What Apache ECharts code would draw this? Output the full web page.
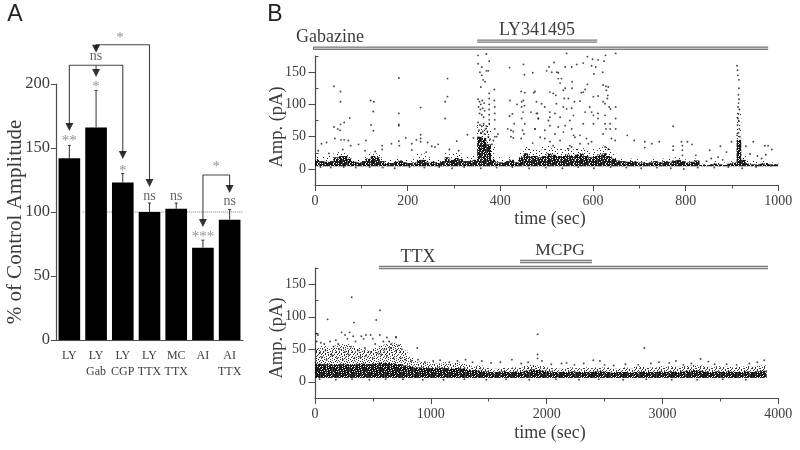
<!DOCTYPE html>
<html><head><meta charset="utf-8">
<script src="https://cdn.jsdelivr.net/npm/echarts@6/dist/echarts.min.js"></script>
<style>html,body{margin:0;background:#fff}#c{width:800px;height:450px}</style></head>
<body><div id="c"></div>
<script>
// Panel A
const barLabels = ['LY\n ','LY\nGab','LY\nCGP','LY\nTTX','MC\nTTX','AI\n ','AI\nTTX'];
const barValues = [142,166,123,100,102.5,72,94];
const barErrTop = [152,195,130,107,107,78,102];
const bracketRuns = [
  [[1.5,228],[1.5,230.7],[3.5,230.7],[3.5,125]],
  [[0.5,168],[0.5,214.6],[2.5,214.6],[2.5,146]],
  [[1.5,214.6],[1.5,211]],
  [[5.5,93.7],[5.5,128.9],[6.5,128.9],[6.5,120]]
];
const arrowHeads = [[1.5,227.5],[3.5,122.7],[0.5,166.4],[2.5,144.5],[1.5,208.6],[5.5,91.4],[6.5,118]];
const sigStars = [[0.5,156,'**'],[1.5,198,'*'],[2.5,133,'*'],[5.5,81,'***'],[2.4,237,'*'],[6,136,'*']];
const sigNs = [[1.5,221.5,'ns'],[3.5,112.5,'ns'],[4.5,112.5,'ns'],[6.5,108.5,'ns']];
// Panel B, upper trace: band per 10 s bin (amplitude pA)
const topBinSec = 10, topFloor = 4;
const topCore = [14,12,11,12,18,20,20,16,11,10, 12,16,20,18,12,9,9,11,13,10, 9,10,14,14,10,11,9,12,18,14,
 17,15,12,12,14,50,48,38,14,10, 10,12,14,10,18,24,20,20,18,20, 24,22,20,20,22,20,22,24,20,18,
 20,22,24,20,16,13,12,11,12,11, 10,9,10,12,10,12,11,13,14,12, 10,11,13,6,6,7,8,7,6,8, 10,45,14,8,7,7,8,9,7,7];
const topHaze = [22,20,18,20,28,28,26,22,16,15, 18,24,26,24,18,14,15,16,20,15, 15,15,24,24,18,16,15,18,26,24,
 26,24,20,18,20,70,68,70,35,18, 14,18,20,16,28,34,32,30,30,34, 36,34,32,32,34,30,32,34,32,28,
 32,34,36,32,26,18,16,15,16,15, 14,13,14,16,15,16,16,18,20,16, 14,15,16,8,8,10,12,10,10,12, 14,95,22,14,12,11,12,14,10,10];
const topEvents = [[41,128],[55,120],[55,104],[75,79],[63,72],[55,69],[54,60],[41,65],[49,62],[43,47],[56,45],[63,45],[72,44],[77,36],[94,38],[110,44],[120,106],[127,104],[126,89],[121,68],[126,59],[181,141],[181,86],[181,69],[181,67],[228,95],[286,140],[286,112],[281,104],[281,78],[196,48],[181,43],[182,36],[145,36],[145,30],[165,39],[209,39],[219,45],[228,53],[228,47],[228,42],[243,41],[259,34],[266,38],[252,35],[306,43],[329,53],[342,48],[14,39],[25,41],[7,28],[108,28],[209,29],[30,24],[60,30],[130,27],[240,26],[290,30],[310,28],
[352,176],[370,178],[376,167],[352,163],[360,158],[370,152],[374,152],[356,150],[360,145],[363,138],[367,135],[358,127],[387,123],[376,117],[376,109],[387,106],[352,108],[355,104],[358,100],[361,106],[365,102],[353,96],[357,92],[362,94],[366,90],[355,86],[360,84],[364,80],[376,100],[376,92],[376,84],[376,76],[376,70],[388,96],[388,86],[388,76],[388,62],[388,50],[392,50],[395,54],[385,44],[382,38],[352,72],[356,68],[360,66],[364,70],[368,62],[354,60],[358,56],[362,58],[366,54],[370,66],[372,58],[374,50],[378,46],
[420,157],[421,106],[426,85],[420,82],[430,70],[423,60],[428,58],[423,50],[428,48],[416,62],[436,100],[446,96],[450,162],[452,146],[445,120],[453,118],[450,106],[446,104],[452,98],[449,88],[446,78],[453,70],[448,60],[451,54],[445,47],[470,149],[475,120],[472,118],[478,104],[480,86],[475,62],[482,78],
[543,179],[649,179],[627,176],[588,174],[599,170],[611,169],[624,167],[516,165],[565,162],[579,164],[505,158],[554,158],[540,158],[597,160],[606,158],[500,152],[511,150],[522,150],[525,149],[621,150],[602,147],[532,140],[525,140],[529,133],[555,135],[540,125],[555,125],[536,122],[588,131],[583,123],[622,130],[628,128],[633,127],[629,122],[632,114],[631,109],[507,119],[514,117],[520,114],[538,109],[547,109],[560,104],[572,105],[575,118],[579,119],[601,112],[611,113],[622,104],[626,101],[635,96],[649,96],[638,93],[489,101],[496,96],[507,88],[518,86],[521,101],[536,96],[543,93],[554,94],[558,83],[507,80],[478,86],[504,75],[482,78],[529,80],[540,67],[550,75],[554,62],[579,70],[583,88],[593,96],[597,88],[601,83],[611,86],[611,78],[601,70],[626,70],[637,70],[628,62],[637,62],[649,78],[649,62],[626,83],[622,54],[640,47],[648,44],[586,47],[597,42],[590,39],[558,52],[561,49],[536,57],[525,65],[518,54],[507,67],[496,60],[486,49],[475,62],[496,47],[507,42],[514,36],[529,44],[547,31],[550,36],[554,34],[572,39],[572,52],[626,34],[633,31],[470,40],[466,88],
[674,52],[689,44],[712,42],[727,39],[743,42],[712,33],[773,66],[773,35],[773,29],[791,42],[793,36],[793,29],[793,21],[804,42],[814,38],[822,21],[852,29],[875,35],[888,26],[899,42],[870,18],[845,12],[855,16],[840,6],[880,14],
[911,160],[912,153],[913,145],[915,138],[915,125],[914,115],[914,102],[916,92],[914,85],[913,78],[915,74],[912,68],[916,62],[914,56],[911,52],[917,50],[913,96],[915,108],
[930,35],[946,42],[939,23],[971,36],[978,36],[986,30],[973,22],[955,20],[964,16],
[12,3],[34,2],[62,3],[88,2],[118,3],[146,2],[172,1],[204,3],[236,2],[268,3],[296,1],[322,3],[358,1],[392,2],[426,3],[462,1],[498,2],[534,1],[568,3],[602,1],[638,3],[672,2],[704,1],[738,2],[768,1],[796,0],[826,2],[862,2],[892,3],[922,1],[952,3],[984,5]];
// Panel B, lower trace: band per 50 s bin
const lowBinSec = 50, lowFloor = 6;
const lowCore = [28,27,27,26,27,27,26,27,28,27, 28,29,29,28,27,25,24,22,22,21, 21,22,21,20,21,20,18,18,17,16,
 15,15,16,15,16,15,17,19,18,17, 16,15,15,15,16,15,15,15,16,16, 15,14,15,15,14,15,16,15,15,16,
 15,16,15,16,17,18,17,16,15,16, 15,16,15,15,16,15,16,17];
const lowHaze = [52,55,52,56,58,58,55,52,50,48, 52,56,58,60,58,48,38,32,31,30, 30,28,30,28,30,28,26,24,25,22,
 20,20,22,21,22,22,24,26,25,24, 22,21,20,21,22,21,22,21,22,22, 22,20,20,22,20,23,24,22,22,24,
 23,24,23,24,25,26,25,24,23,24, 23,23,22,23,24,23,24,25];
const lowEvents = [[317,130],[109,96],[337,91],[561,110],[529,95],[883,52],[699,69],[1922,73],[2843,52],[1922,42],[1922,36],[2403,33],[2460,32],[2172,29],[2129,28],[3329,35],[3396,31],[3879,33],[3116,32],[3059,29],[3554,27],
[10,74],[25,72],[15,62],[50,60],[80,58],[130,62],[180,64],[230,76],[260,72],[300,76],[330,70],[400,70],[440,72],[480,72],[500,66],[560,72],[620,68],[640,62],[700,68],[200,58],[160,54],[280,66],[350,62],[420,66],[520,58],[590,62],[660,58],[720,56],[750,50],[40,44],[90,48],[140,42],[210,50],[260,46],[310,54],[370,48],[430,52],[480,46],[540,44],[600,50],[650,52],[700,48],
[60,38],[100,34],[150,40],[190,36],[240,34],[290,42],[340,36],[390,38],[440,40],[500,36],[570,42],[620,40],[680,36],[740,36],[780,34],[830,32],[890,34],[950,30],[1020,32],[1080,33],[1160,30],[1230,32],[1300,34],[1360,30],[1440,32],[1520,29],[1600,30],[1700,34],[1780,28],[1840,30],[1960,32],[2040,27],[2240,26],[2320,28],[2500,26],[2580,25],[2680,27],[2790,26],[2900,28],[2970,30],[3180,26],[3250,28],[3450,27],[3640,26],[3750,28],[3820,30],
[40,4],[180,3],[320,4],[470,3],[610,4],[760,4],[930,3],[1110,3],[1290,4],[1480,3],[1650,4],[1850,3],[2080,4],[2280,3],[2450,4],[2660,3],[2860,4],[3080,3],[3300,3],[3520,4],[3720,3]];
// Application bars
const gabSpan = [-58,978], lySpan = [350,609], ttxSpan = [552,3911], mcpgSpan = [1770,2391];
const gabLevel = 187, lyLevel = 198, ttxLevel = 175.7, mcpgLevel = 185;
const ampTicks = [0,50,100,150], ampMinor = [-25,25,75,125,175];
// Stipple textures for the overlapping event clouds
const tileDense = ["##.###.#####.##.","#.#######.#.####","####.##.######.#",".#.#######.##.##","#####.#.#####.##","##.#######.###.#","#.###.##.###.###","####.######.##.#",".##.####.#.#####","#####.#.#####.##","#.#.#######.####","###.##.#.#####.#","##.######.###.##","#####.##.####.##",".#.###.####.#.##","###.####.######."];
const tileMedium = ["#..#...##...#..#","..#..#.....#....",".#...#..#.#...#.","...#....#....#..","#.....#...#.#...","..#.#....#.....#",".#....#.#...#...","....#.....#...#.","#.#...#.....#...","...#....#.#....#",".#...#.....#.#..","....#..#.#......","#.#....#...#..#.","..#..#...#...#..",".....#.#....#..#","#..#......#.#..."];
const tileSparse = ["......#.........",".#.........#....","....#...........","..........#...#.",".......#........","##...........#..",".....#..#.......","...........#....","..#.............","........#....#..",".#...#..........","...........#....",".........#......","...#.........#..",".......#........",".............#.."];

const SERIF = '"Liberation Serif","Times New Roman",serif', SANS = '"Liberation Sans",Arial,sans-serif';
const TXT = '#3c3c3c', AX = '#4a4a4a';
const chart = echarts.init(document.getElementById('c'));

function stipple(rows, ink){
  const cv = document.createElement('canvas'); cv.width = rows[0].length; cv.height = rows.length;
  const g = cv.getContext('2d'); g.fillStyle = ink;
  rows.forEach((r,y)=>[...r].forEach((ch,x)=>{ if(ch==='#') g.fillRect(x,y,1,1); }));
  return {image:cv, repeat:'repeat'};
}
const fillDense = stipple(tileDense,'rgba(0,0,0,0.9)'), fillMedium = stipple(tileMedium,'rgba(0,0,0,0.8)'), fillSparse = stipple(tileSparse,'rgba(0,0,0,0.85)');
function band(arr, step, lo, fill, xi, yi, z){
  return {type:'custom', xAxisIndex:xi, yAxisIndex:yi, z, silent:true,
    renderItem(params, api){
      const a = api.coord([api.value(0), api.value(3)]), b = api.coord([api.value(1), api.value(2)]);
      return {type:'rect', shape:{x:a[0], y:a[1], width:b[0]-a[0], height:b[1]-a[1]}, style:{fill}};
    },
    encode:{x:[0,1], y:[2,3]},
    data:arr.map((h,i)=>[i*step,(i+1)*step,lo,h])};
}
function dots(data, xi, yi){
  return {type:'scatter', xAxisIndex:xi, yAxisIndex:yi, data, symbolSize:1.9, z:5, silent:true,
    itemStyle:{color:'#1a1a1a'}, clip:false};
}
function appBar(span, level, xi, yi){
  const d = span.map(t=>[t,level]);
  const base = {type:'line', xAxisIndex:xi, yAxisIndex:yi, showSymbol:false, symbol:'none', clip:false, silent:true, data:d};
  return [
    {...base, z:6, lineStyle:{color:'#7a7a7a', width:3.4, cap:'butt'}},
    {...base, z:7, lineStyle:{color:'#e8e8e8', width:0.9, cap:'butt'}}
  ];
}
function ampAxes(grid){
  return [
   {type:'value', gridIndex:grid, min:-25, max:175, interval:25, splitLine:{show:false},
    axisLine:{show:true, onZero:false, lineStyle:{color:AX, width:1.2}},
    axisTick:{show:true, length:6.5, lineStyle:{color:AX}, customValues:ampTicks},
    axisLabel:{customValues:ampTicks, fontFamily:SERIF, fontSize:14, color:TXT, margin:9}},
   {type:'value', gridIndex:grid, min:-25, max:175, interval:25, splitLine:{show:false},
    axisLine:{show:false}, axisLabel:{show:false},
    axisTick:{show:true, length:3.5, lineStyle:{color:AX}, customValues:ampMinor}}
  ];
}
function timeAxis(grid, max, interval){
  return {type:'value', gridIndex:grid, min:0, max, interval, splitLine:{show:false},
    axisLine:{show:true, onZero:false, lineStyle:{color:AX, width:1.2}},
    axisTick:{show:true, length:6, lineStyle:{color:AX}},
    minorTick:{show:true, splitNumber:2, length:3.5, lineStyle:{color:AX}},
    axisLabel:{fontFamily:SERIF, fontSize:14, color:TXT, margin:9, formatter:v=>String(v)}};
}
const labelSeries = (data, color, size, dy) => ({
  type:'scatter', xAxisIndex:1, yAxisIndex:0, data, symbolSize:0, clip:false, silent:true, z:9,
  label:{show:true, position:'inside', formatter:p=>p.value[2], fontFamily:SERIF, fontSize:size, color, offset:[0,dy]}
});
const text = (x,y,t,size,opt={}) => ({type:'text', x, y, rotation:opt.rot||0, silent:true,
  style:{text:t, fontFamily:opt.font||SERIF, fontSize:size, fill:opt.fill||TXT, textAlign:'center', textVerticalAlign:'middle'}});

chart.setOption({
  animation:false, backgroundColor:'#fff',
  grid:[
    {left:56, right:557, top:84, bottom:110},
    {left:315, right:21.7, top:56, height:129},
    {left:315, right:21.7, top:268, height:130}
  ],
  xAxis:[
    {type:'category', gridIndex:0, data:barLabels, axisLine:{lineStyle:{color:AX, width:1.2}},
     axisTick:{alignWithLabel:true, length:5, lineStyle:{color:AX}},
     axisLabel:{fontFamily:SERIF, fontSize:12, lineHeight:16, color:TXT, margin:8, interval:0}},
    {type:'value', gridIndex:0, min:0, max:7, show:false},
    timeAxis(1,1000,200), timeAxis(2,4000,1000)
  ],
  yAxis:[
    {type:'value', gridIndex:0, min:0, max:200, interval:50, splitLine:{show:false},
     axisLine:{show:true, lineStyle:{color:AX, width:1.2}}, axisTick:{show:true, length:5, lineStyle:{color:AX}},
     axisLabel:{fontFamily:SERIF, fontSize:16.5, color:TXT, margin:6}},
    ...ampAxes(1), ...ampAxes(2)
  ],
  graphic:[
    text(15,15,'A',23,{font:SANS, fill:'#222'}),
    text(275,15,'B',23,{font:SANS, fill:'#222'}),
    text(15,222,'% of Control Amplitude',21,{rot:Math.PI/2}),
    text(277,127,'Amp. (pA)',18.5,{rot:Math.PI/2}),
    text(277,338,'Amp. (pA)',18.5,{rot:Math.PI/2}),
    text(550,219,'time (sec)',18),
    text(550,433,'time (sec)',18),
    text(330,37,'Gabazine',18),
    text(537,30,'LY341495',18),
    text(418,257,'TTX',18),
    text(560,250,'MCPG',17.5)
  ],
  series:[
    {type:'line', xAxisIndex:1, yAxisIndex:0, data:[[1,100],[7,100]], symbol:'none', z:1, silent:true,
     lineStyle:{color:'#777', width:1, type:'dotted'}},
    {type:'bar', xAxisIndex:0, yAxisIndex:0, data:barValues, barWidth:'81%', itemStyle:{color:'#000'}, z:2, silent:true},
    {type:'custom', xAxisIndex:0, yAxisIndex:0, z:3, silent:true, encode:{x:0,y:[1,2]},
     data:barValues.map((v,i)=>[i,v,barErrTop[i]]),
     renderItem(p,api){
       const a=api.coord([api.value(0),api.value(1)]), b=api.coord([api.value(0),api.value(2)]);
       return {type:'group',children:[
         {type:'line',shape:{x1:a[0],y1:a[1],x2:b[0],y2:b[1]},style:{stroke:'#333',lineWidth:1}},
         {type:'line',shape:{x1:b[0]-1.5,y1:b[1],x2:b[0]+1.5,y2:b[1]},style:{stroke:'#333',lineWidth:1}}]};
     }},
    ...bracketRuns.map(run=>({type:'line', xAxisIndex:1, yAxisIndex:0, data:run, symbol:'none', clip:false, z:4, silent:true,
      lineStyle:{color:'#444', width:1.1}})),
    {type:'scatter', xAxisIndex:1, yAxisIndex:0, data:arrowHeads, symbol:'triangle', symbolRotate:180, symbolSize:[8,8],
      clip:false, z:5, silent:true, itemStyle:{color:'#000'}},
    labelSeries(sigStars,'#777',15,1),
    labelSeries(sigNs,'#3c3c3c',14,0),
    band(topHaze,topBinSec,topFloor,fillSparse,2,1,2),
    band(topCore,topBinSec,topFloor,fillDense,2,1,3),
    dots(topEvents,2,1),
    band(lowHaze,lowBinSec,lowFloor,fillMedium,3,3,2),
    band(lowCore,lowBinSec,lowFloor,fillDense,3,3,3),
    dots(lowEvents,3,3),
    ...appBar(gabSpan,gabLevel,2,1), ...appBar(lySpan,lyLevel,2,1),
    ...appBar(ttxSpan,ttxLevel,3,3), ...appBar(mcpgSpan,mcpgLevel,3,3)
  ]
});
</script></body></html>
